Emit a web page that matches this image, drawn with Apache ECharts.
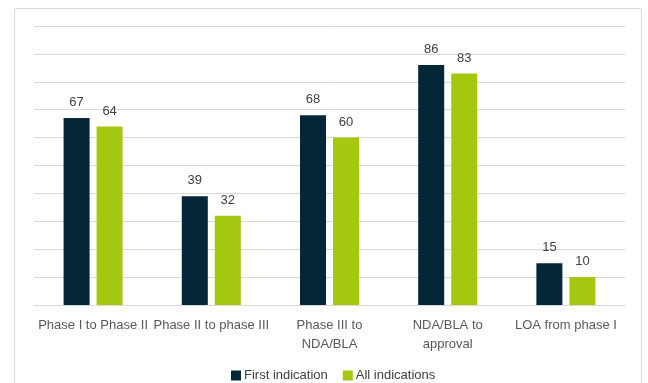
<!DOCTYPE html>
<html>
<head>
<meta charset="utf-8">
<script src="https://cdn.jsdelivr.net/npm/echarts@6/dist/echarts.min.js"></script>
<style>
  html, body { margin: 0; padding: 0; background: #ffffff; }
  #chart { width: 648px; height: 383px; }
</style>
</head>
<body>
<div id="chart"></div>
<script>
// Transition stages
const categories = [
  'Phase I to Phase II',
  'Phase II to phase III',
  'Phase III to\nNDA/BLA',
  'NDA/BLA to\napproval',
  'LOA from phase I'
];

// Success rates (%)
const firstIndication = [67, 39, 68, 86, 15];
const allIndications = [64, 32, 60, 83, 10];

const seriesNames = ['First indication', 'All indications'];

const FONT = '"Liberation Sans", Arial, sans-serif';

const chart = echarts.init(document.getElementById('chart'), null, { renderer: 'canvas' });

const labelStyle = {
  show: true,
  position: 'top',
  distance: 9,
  color: '#404040',
  fontFamily: FONT,
  fontSize: 13
};

chart.setOption({
  animation: false,
  backgroundColor: '#ffffff',
  graphic: [
    {
      type: 'rect',
      shape: { x: 14.5, y: 8.5, width: 627, height: 400 },
      style: { fill: 'none', stroke: '#d9d9d9', lineWidth: 1 },
      silent: true,
      z: -1
    }
  ],
  grid: { left: 34, right: 23, top: 26, bottom: 78 },
  legend: {
    bottom: -4,
    left: 226,
    itemWidth: 10,
    itemHeight: 10,
    itemGap: 15,
    icon: 'rect',
    textStyle: {
      color: '#404040',
      fontFamily: FONT,
      fontSize: 13,
      padding: [0, 0, 0, -2]
    },
    data: seriesNames
  },
  xAxis: {
    type: 'category',
    data: categories,
    axisLine: { lineStyle: { color: '#d9d9d9', width: 1 } },
    axisTick: { show: false },
    axisLabel: {
      interval: 0,
      margin: 11,
      color: '#595959',
      fontFamily: FONT,
      fontSize: 13,
      lineHeight: 19
    }
  },
  yAxis: {
    type: 'value',
    min: 0,
    max: 100,
    interval: 10,
    axisLabel: { show: false },
    axisLine: { show: false },
    axisTick: { show: false },
    splitLine: { lineStyle: { color: '#d9d9d9', width: 1 } }
  },
  series: [
    {
      name: seriesNames[0],
      type: 'bar',
      data: firstIndication,
      barWidth: 26,
      barGap: '27%',
      itemStyle: { color: '#032736' },
      label: labelStyle
    },
    {
      name: seriesNames[1],
      type: 'bar',
      data: allIndications,
      barWidth: 26,
      itemStyle: { color: '#a4c70f' },
      label: labelStyle
    }
  ]
});
</script>
</body>
</html>
